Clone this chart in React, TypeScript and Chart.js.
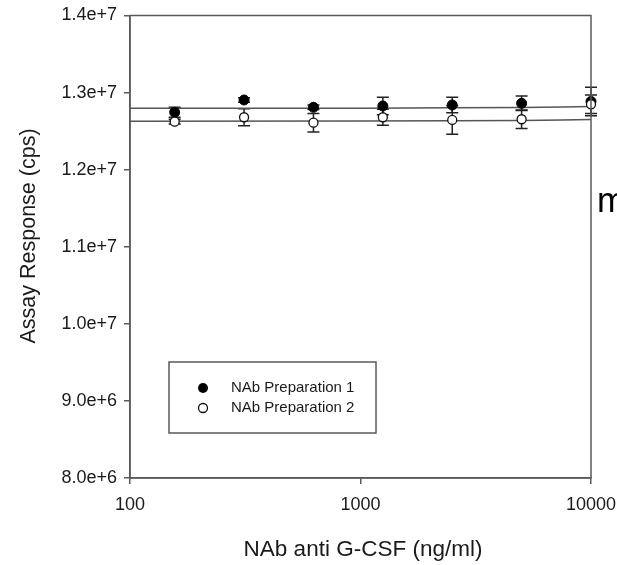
import { useEffect, useRef } from "react";
import { Chart, registerables } from "chart.js";

Chart.register(...registerables);

// ---- data ----
const concentrations = [156.25, 312.5, 625, 1250, 2500, 5000, 10000];
const prep1Mean = [12.745e6, 12.904e6, 12.809e6, 12.826e6, 12.839e6, 12.861e6, 12.885e6];
const prep1Err = [0.065e6, 0.03e6, 0.03e6, 0.113e6, 0.1e6, 0.095e6, 0.185e6];
const prep2Mean = [12.623e6, 12.68e6, 12.61e6, 12.68e6, 12.645e6, 12.654e6, 12.848e6];
const prep2Err = [0.03e6, 0.11e6, 0.12e6, 0.104e6, 0.185e6, 0.12e6, 0.12e6];
const fitX = [100, 1000, 2500, 5000, 7500, 10000];
const fit1 = [12.796e6, 12.798e6, 12.802e6, 12.808e6, 12.814e6, 12.82e6];
const fit2 = [12.628e6, 12.63e6, 12.633e6, 12.639e6, 12.644e6, 12.65e6];
const xTickValues = [100, 1000, 10000];
const seriesNames = ["NAb Preparation 1", "NAb Preparation 2"];
const xTitle = "NAb anti G-CSF (ng/ml)";
const yTitle = "Assay Response (cps)";
const sideText = "m";

const FONT = "'Liberation Sans', Arial, Helvetica, sans-serif";
const AXIS = "#5a5a5a";
const TEXT = "#1a1a1a";

const overlay = {
  id: "overlay",
  beforeDatasetsDraw(chart: any) {
    const ctx = chart.ctx;
    const xs = chart.scales.x;
    const ys = chart.scales.y;
    ctx.save();
    ctx.strokeStyle = "#222";
    ctx.lineWidth = 1.5;
    const drawBars = (means: number[], errs: number[]) => {
      means.forEach((m, i) => {
        const px = xs.getPixelForValue(concentrations[i]);
        const top = ys.getPixelForValue(m + errs[i]);
        const bot = ys.getPixelForValue(m - errs[i]);
        ctx.beginPath();
        ctx.moveTo(px, top);
        ctx.lineTo(px, bot);
        ctx.moveTo(px - 6, top);
        ctx.lineTo(px + 6, top);
        ctx.moveTo(px - 6, bot);
        ctx.lineTo(px + 6, bot);
        ctx.stroke();
      });
    };
    drawBars(prep1Mean, prep1Err);
    drawBars(prep2Mean, prep2Err);
    ctx.restore();
  },
  afterDraw(chart: any) {
    const ctx = chart.ctx;
    const a = chart.chartArea;
    ctx.save();
    // frame
    ctx.strokeStyle = AXIS;
    ctx.lineWidth = 1.5;
    ctx.strokeRect(a.left, a.top, a.right - a.left, a.bottom - a.top);
    // titles
    ctx.fillStyle = TEXT;
    ctx.textAlign = "center";
    ctx.textBaseline = "middle";
    ctx.font = `22.5px ${FONT}`;
    ctx.fillText(xTitle, 363, 550);
    ctx.save();
    ctx.translate(29, 236);
    ctx.rotate(-Math.PI / 2);
    ctx.font = `21.5px ${FONT}`;
    ctx.fillText(yTitle, 0, 0);
    ctx.restore();
    // legend
    ctx.strokeStyle = AXIS;
    ctx.lineWidth = 1.5;
    ctx.strokeRect(169, 362, 207, 71);
    ctx.beginPath();
    ctx.arc(203, 388, 5, 0, Math.PI * 2);
    ctx.fillStyle = "#000";
    ctx.fill();
    ctx.beginPath();
    ctx.arc(203, 408, 4.5, 0, Math.PI * 2);
    ctx.fillStyle = "#fff";
    ctx.fill();
    ctx.strokeStyle = "#111";
    ctx.lineWidth = 1.3;
    ctx.stroke();
    ctx.fillStyle = TEXT;
    ctx.font = `15px ${FONT}`;
    ctx.textAlign = "left";
    ctx.textBaseline = "middle";
    ctx.fillText(seriesNames[0], 231, 388);
    ctx.fillText(seriesNames[1], 231, 408);
    // clipped side text
    ctx.font = `35px ${FONT}`;
    ctx.textBaseline = "alphabetic";
    ctx.fillStyle = "#000";
    ctx.fillText(sideText, 597, 212);
    ctx.restore();
  },
};

export default function App() {
  const ref = useRef<HTMLCanvasElement | null>(null);
  useEffect(() => {
    if (!ref.current) return;
    const chart = new Chart(ref.current, {
      type: "scatter",
      data: {
        datasets: [
          {
            label: "fit1",
            type: "line",
            data: fitX.map((x, i) => ({ x, y: fit1[i] })),
            borderColor: "#555",
            borderWidth: 1.5,
            pointRadius: 0,
            showLine: true,
            order: 4,
          },
          {
            label: "fit2",
            type: "line",
            data: fitX.map((x, i) => ({ x, y: fit2[i] })),
            borderColor: "#555",
            borderWidth: 1.5,
            pointRadius: 0,
            showLine: true,
            order: 3,
          },
          {
            label: seriesNames[0],
            data: concentrations.map((x, i) => ({ x, y: prep1Mean[i] })),
            backgroundColor: "#000",
            borderColor: "#000",
            borderWidth: 1,
            pointRadius: 5,
            clip: false,
            order: 2,
          },
          {
            label: seriesNames[1],
            data: concentrations.map((x, i) => ({ x, y: prep2Mean[i] })),
            backgroundColor: "#fff",
            borderColor: "#111",
            borderWidth: 1.3,
            pointRadius: 4.5,
            clip: false,
            order: 1,
          },
        ] as any,
      },
      options: {
        responsive: false,
        animation: false,
        layout: { padding: { top: 15.5, right: 26, left: 0, bottom: 0 } },
        plugins: { legend: { display: false }, tooltip: { enabled: false } },
        scales: {
          x: {
            type: "logarithmic",
            min: 100,
            max: 10000,
            afterBuildTicks: (s: any) => {
              s.ticks = xTickValues.map((v) => ({ value: v }));
            },
            afterFit: (s: any) => {
              s.height = 87;
              s.paddingLeft = 0;
              s.paddingRight = 0;
            },
            ticks: {
              callback: (v: any) => String(v),
              font: { family: FONT, size: 18 },
              color: TEXT,
              padding: 10,
              maxRotation: 0,
              autoSkip: false,
            },
            grid: { drawOnChartArea: false, drawTicks: true, tickLength: 6, color: AXIS, lineWidth: 1.5 },
            border: { color: AXIS, width: 1.5 },
          },
          y: {
            type: "linear",
            min: 8e6,
            max: 1.4e7,
            afterFit: (s: any) => {
              s.width = 130;
              s.paddingTop = 0;
              s.paddingBottom = 0;
            },
            ticks: {
              stepSize: 1e6,
              callback: (v: any) => Number(v).toExponential(1),
              font: { family: FONT, size: 18 },
              color: TEXT,
              padding: 7,
            },
            grid: { drawOnChartArea: false, drawTicks: true, tickLength: 6, color: AXIS, lineWidth: 1.5 },
            border: { color: AXIS, width: 1.5 },
          },
        },
      },
      plugins: [overlay],
    });
    return () => chart.destroy();
  }, []);
  return (
    <div style={{ position: "absolute", left: 0, top: 0, width: 617, height: 565, background: "#fff" }}>
      <canvas ref={ref} width={617} height={565} style={{ display: "block" }} />
    </div>
  );
}
